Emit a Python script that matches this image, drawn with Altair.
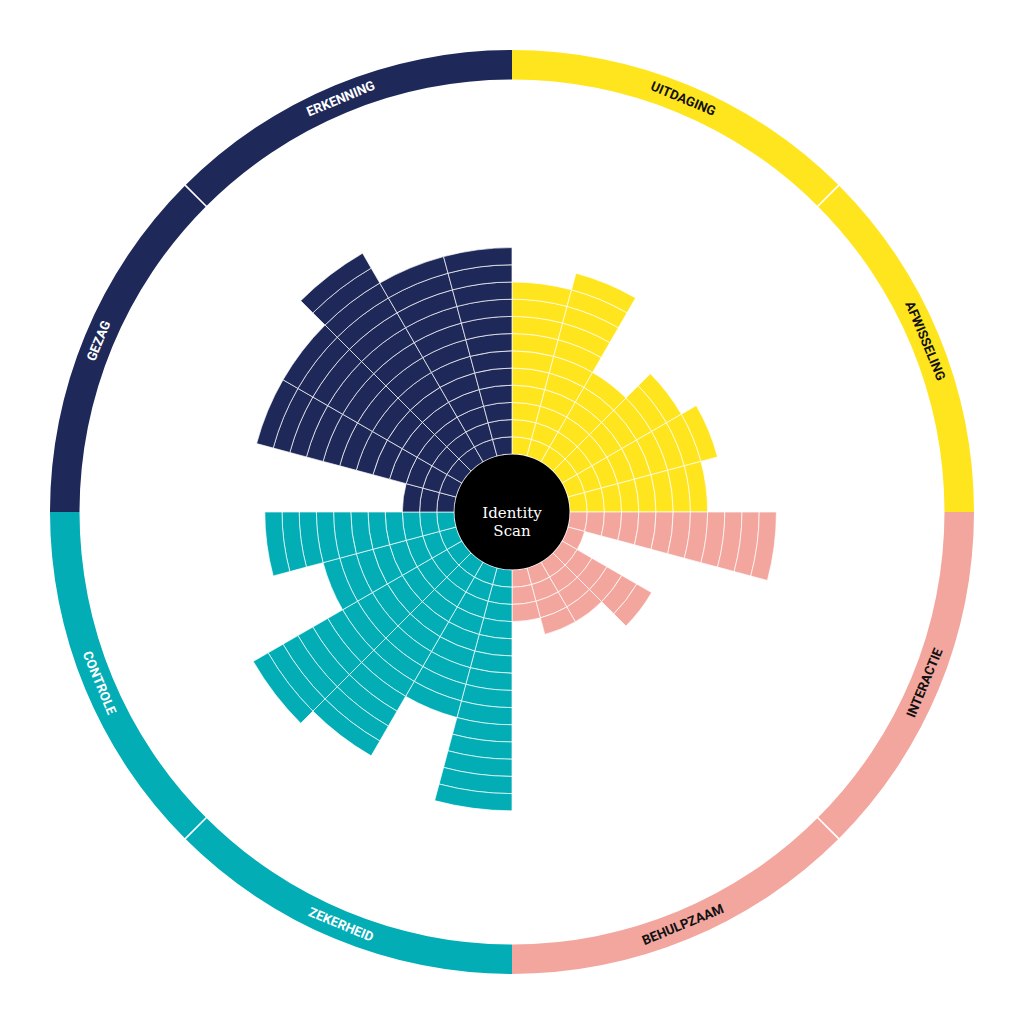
import math
import pandas as pd
import altair as alt

# ---- data -------------------------------------------------------------
categories = ["UITDAGING", "AFWISSELING", "INTERACTIE", "BEHULPZAAM",
              "ZEKERHEID", "CONTROLE", "GEZAG", "ERKENNING"]
# three wedges per category, clockwise from 12 o'clock (units)
uitdaging = [10, 11, 6]
afwisseling = [8, 9, 8]
interactie = [12, 1, 6]
behulpzaam = [4, 4, 3]
zekerheid = [14, 9, 13]
controle = [14, 8, 11]
gezag = [3, 12, 12]
erkenning = [14, 12, 12]
values = [uitdaging, afwisseling, interactie, behulpzaam,
          zekerheid, controle, gezag, erkenning]

YELLOW, PINK, TEAL, NAVY = "#FFE51E", "#F3A69E", "#02ADB6", "#1E2959"
colors = [YELLOW, YELLOW, PINK, PINK, TEAL, TEAL, NAVY, NAVY]
label_colors = ["#111111", "#111111", "#111111", "#111111",
                "#FFFFFF", "#FFFFFF", "#FFFFFF", "#FFFFFF"]

# ---- tables built from the arrays ------------------------------------
cell_rows = []
for j, cat in enumerate(categories):
    for w, v in enumerate(values[j]):
        idx = 3 * j + w
        for k in range(v):
            cell_rows.append({"cat": cat, "t0": idx, "t1": idx + 1,
                              "r0": k, "r1": k + 1, "col": colors[j]})
cells_df = pd.DataFrame(cell_rows)

ring_df = pd.DataFrame({
    "cat": categories,
    "t0": [3 * j for j in range(8)],
    "t1": [3 * j + 3 for j in range(8)],
    "col": colors,
})

# thin white separators between the two categories of one colour
sep_df = pd.DataFrame({
    "t0": [3 * j + 3 - 0.007 for j in (0, 2, 4, 6)],
    "t1": [3 * j + 3 + 0.007 for j in (0, 2, 4, 6)],
})

lab_rows = []
for j, cat in enumerate(categories):
    mid = 3 * j + 1.5
    deg = mid * 15
    rot = deg if (deg < 90 or deg > 270) else (deg - 180) % 360
    lab_rows.append({"cat": cat, "tm": mid, "rot": rot, "tcol": label_colors[j]})
lab_df = pd.DataFrame(lab_rows)

CX, CY = 504, 504
theta_scale = alt.Scale(domain=[0, 24], range=[0, 2 * math.pi])
r_scale = alt.Scale(type="linear", domain=[0, 20], range=[58, 402], zero=False)

ring = alt.Chart(ring_df).mark_arc(radius=462, radius2=432.5).encode(
    theta=alt.Theta("t0:Q", scale=theta_scale, stack=None),
    theta2="t1:Q",
    color=alt.Color("col:N", scale=None),
    x=alt.value(CX), y=alt.value(CY),
)

seps = alt.Chart(sep_df).mark_arc(radius=463, radius2=431, color="white").encode(
    theta=alt.Theta("t0:Q", scale=theta_scale, stack=None),
    theta2="t1:Q",
    x=alt.value(CX), y=alt.value(CY),
)

cells = alt.Chart(cells_df).mark_arc(
    stroke="white", strokeWidth=0.9, strokeOpacity=0.75
).encode(
    theta=alt.Theta("t0:Q", scale=theta_scale, stack=None),
    theta2="t1:Q",
    radius=alt.Radius("r1:Q", scale=r_scale),
    radius2="r0:Q",
    color=alt.Color("col:N", scale=None),
    x=alt.value(CX), y=alt.value(CY),
)

hub = alt.Chart(pd.DataFrame({"a": [0]})).mark_arc(
    color="black", radius=57.5, theta=0, theta2=2 * math.pi
).encode(x=alt.value(CX), y=alt.value(CY))

labels = alt.Chart(lab_df).mark_text(
    radius=447, font="Roboto", fontSize=13.2, fontWeight="bold",
    align="center", baseline="middle"
).encode(
    theta=alt.Theta("tm:Q", scale=theta_scale, stack=None),
    text="cat:N",
    angle=alt.Angle("rot:Q", scale=None),
    color=alt.Color("tcol:N", scale=None),
    x=alt.value(CX), y=alt.value(CY),
)

center_text = alt.Chart(pd.DataFrame({"a": [0]})).mark_text(
    text=["Identity", "Scan"], font="DejaVu Serif", fontSize=15,
    color="white", lineHeight=18, align="center", baseline="middle"
).encode(x=alt.value(CX), y=alt.value(CY + 1))

chart = alt.layer(ring, seps, cells, hub, labels, center_text).properties(
    width=1000, height=1000, padding=0, background="white", autosize="none"
).configure_view(strokeWidth=0)

chart.save("out.html", embed_options={"renderer": "svg", "actions": False})
